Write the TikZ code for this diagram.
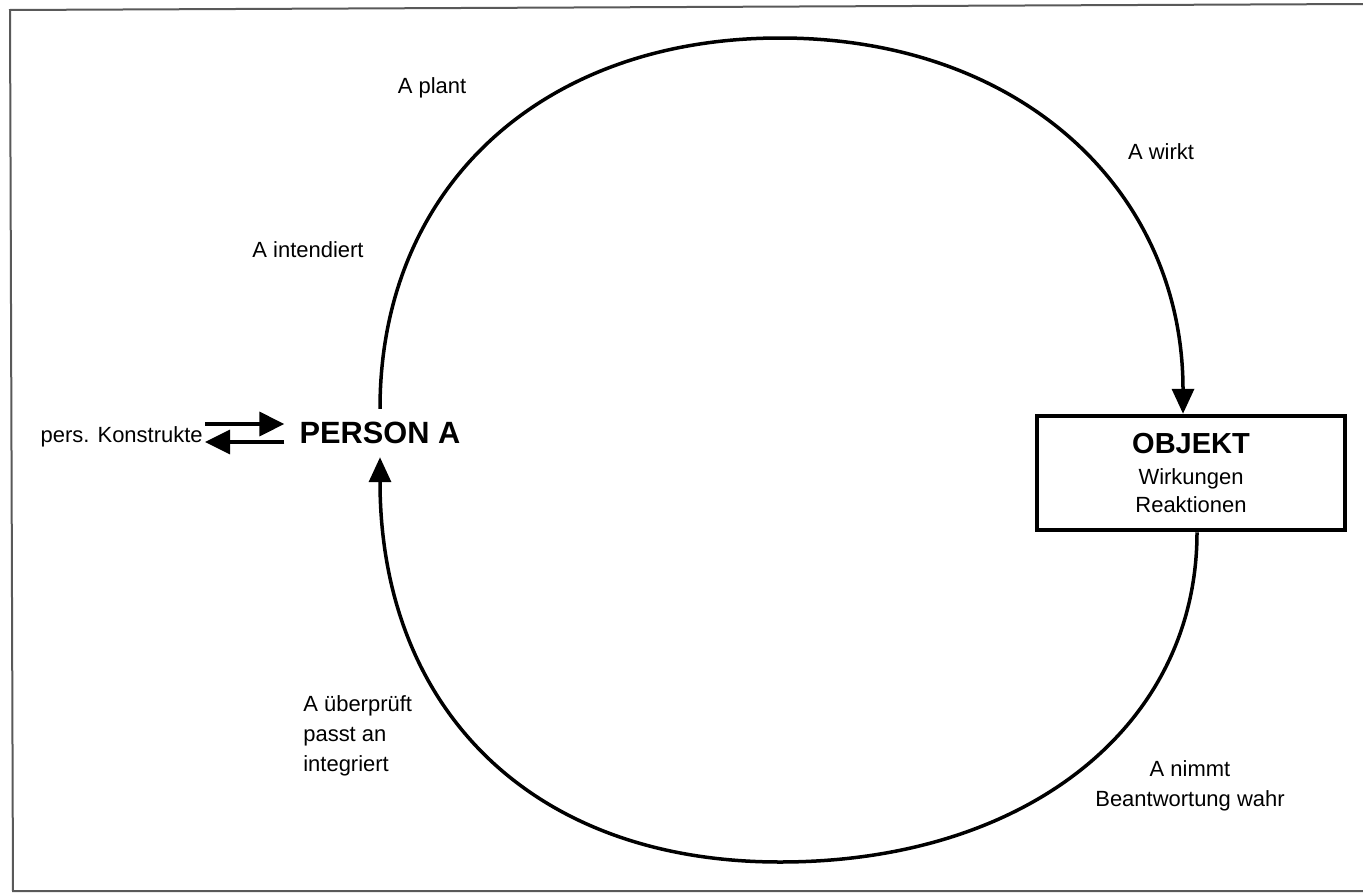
\documentclass[tikz,border=0pt]{standalone}
\usepackage{fontspec}
\setmainfont{Liberation Sans}
\usetikzlibrary{arrows.meta,calc}

\tikzset{
  lbl/.style={font=\fontsize{12.5}{17}\selectfont, inner sep=0pt},
  loopline/.style={line width=0.7mm, -{Triangle[length=5mm,width=4.4mm]}},
  swapline/.style={line width=0.7mm, -{Triangle[length=5mm,width=4.8mm]}},
  objbox/.style={draw, line width=0.9mm, minimum width=61.6mm, minimum height=22.8mm,
    align=center, font=\fontsize{12.5}{16}\selectfont},
}

\begin{document}
\begin{tikzpicture}[x=0.2mm,y=-0.2mm]
  \useasboundingbox (0,0) rectangle (1363,893);
  % frame
  \draw[black!65, line width=0.4mm] (1363,4) -- (10,10) -- (13,891) -- (1363,891);

  % main nodes
  \node[font=\fontsize{17.5}{20}\selectfont\bfseries, inner xsep=3mm, inner ysep=2.6mm] (person) at (380,433) {PERSON A};
  \node[lbl, anchor=east, inner sep=0.4mm] (konstr) at (205,437) {pers. Konstrukte};
  \node[objbox] (objekt) at (1191,473) {{\fontsize{16.5}{18}\selectfont\bfseries OBJEKT}\\[1.2pt] Wirkungen\\ Reaktionen};

  % the loop
  \coordinate (top) at (780,38);
  \coordinate (bottom) at (780,862);
  \draw[loopline] (person.north) .. controls +(0,-222) and (542,38) .. (top)
    .. controls (1022,38) and +(0,-222) .. ($(objekt.north)+(-8,0)$);
  \draw[loopline] ($(objekt.south)+(6,0)$) .. controls +(0,195) and (1025,862) .. (bottom)
    .. controls (530,862) and +(0,250) .. (person.south);

  % constructs
  \draw[swapline] ([yshift=2.6mm]konstr.east) -- ([yshift=2.6mm]konstr.east -| person.west);
  \draw[swapline] ([yshift=-1mm]konstr.east -| person.west) -- ([yshift=-1mm]konstr.east);

  % labels
  \node[lbl] (plant) at (432,88) {A plant};
  \node[lbl] (wirkt) at (1161,152) {A wirkt};
  \node[lbl] (intend) at (308,250) {A intendiert};
  \node[lbl, align=left, anchor=north west] (pruef) at (303,695) {A überprüft\\ passt an\\ integriert};
  \node[lbl, align=center] (nimmt) at (1190,786) {A nimmt\\ Beantwortung wahr};
\end{tikzpicture}
\end{document}
